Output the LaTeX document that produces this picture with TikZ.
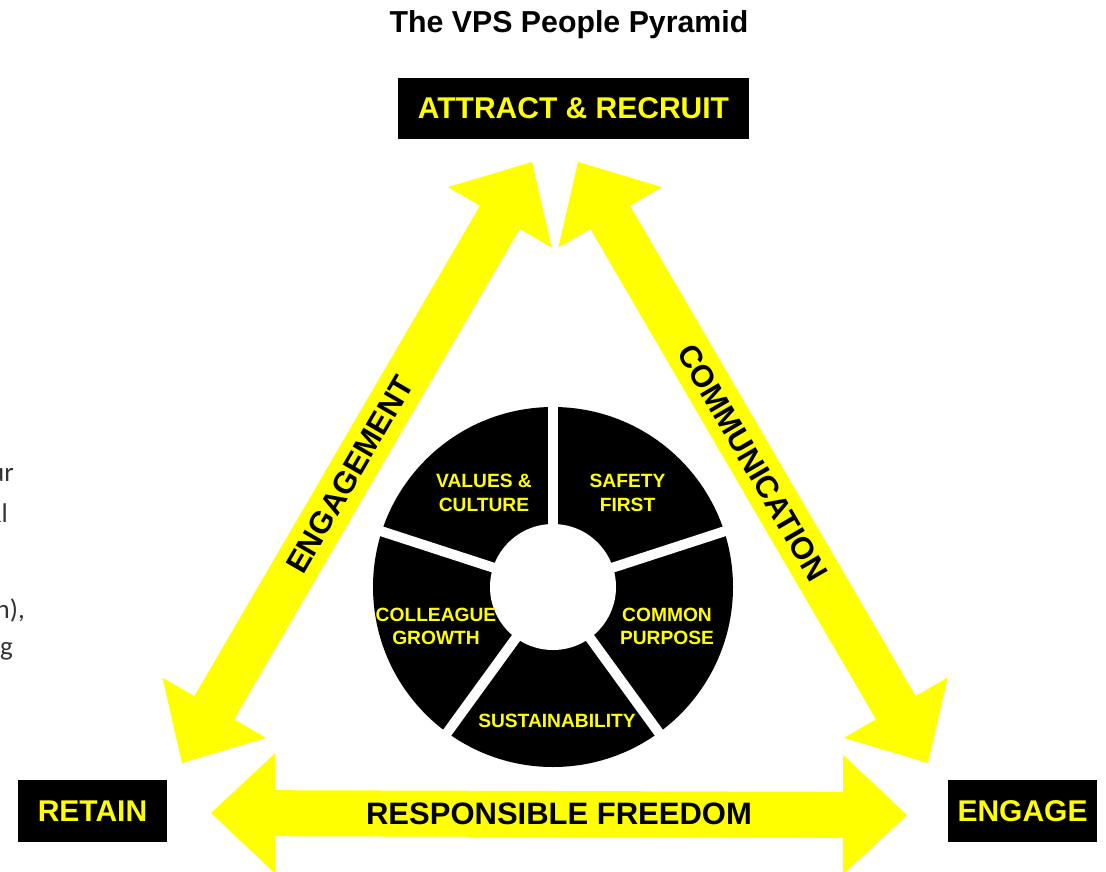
\documentclass[tikz,border=0pt]{standalone}
\usepackage{fontspec}
\setmainfont{Liberation Sans}
\newfontfamily\notefont{Carlito}
\usetikzlibrary{calc}
\definecolor{vpsyellow}{HTML}{FFFF00}

% Double-headed band arrow between two named coordinates
% (head length 64, head half-width 60, shaft half-width 23)
\newcommand\bandarrow[2]{%
  \fill[band] (#1)
    -- ($(#1)!64pt!(#2)!60pt!90:(#2)$)
    -- ($(#1)!64pt!(#2)!23pt!90:(#2)$)
    -- ($(#2)!64pt!(#1)!23pt!-90:(#1)$)
    -- ($(#2)!64pt!(#1)!60pt!-90:(#1)$)
    -- (#2)
    -- ($(#2)!64pt!(#1)!60pt!90:(#1)$)
    -- ($(#2)!64pt!(#1)!23pt!90:(#1)$)
    -- ($(#1)!64pt!(#2)!23pt!-90:(#2)$)
    -- ($(#1)!64pt!(#2)!60pt!-90:(#2)$)
    -- cycle;}

\begin{document}
\begin{tikzpicture}[x=1pt,y=-1pt,
  band/.style={fill=vpsyellow},
  bandlabel/.style={font=\fontsize{31}{31}\selectfont\bfseries, text=black, inner sep=0pt},
  cornerbox/.style={fill=black, text=vpsyellow, font=\fontsize{30}{30}\selectfont\bfseries,
    inner sep=0pt, minimum height=62pt},
  seglabel/.style={text=vpsyellow, font=\fontsize{19.2}{23.5}\selectfont\bfseries,
    align=center, inner sep=0pt},
  note/.style={font=\notefont\fontsize{27}{27}\selectfont, text=black!80,
    anchor=base east, inner sep=0pt}
]
\useasboundingbox (0,0) rectangle (1106,871);

% title
\node[font=\fontsize{30.3}{30.3}\selectfont\bfseries, anchor=base, inner sep=0pt]
  (title) at (569,32) {The VPS People Pyramid};

% corner boxes
\node[cornerbox, minimum width=351pt, minimum height=61pt] (attract) at (573.5,108.5) {ATTRACT \& RECRUIT};
\node[cornerbox, minimum width=149pt] (retain) at (92.5,811) {RETAIN};
\node[cornerbox, minimum width=149pt] (engage) at (1022.5,811) {ENGAGE};

% band arrows
\coordinate (engTop) at (532,162);
\coordinate (engBot) at (182,763);
\coordinate (comTop) at (578,162);
\coordinate (comBot) at (928,763);
\coordinate (frLeft) at (211,813);
\coordinate (frRight) at (907,815);

\bandarrow{engTop}{engBot}
\bandarrow{comTop}{comBot}
\bandarrow{frLeft}{frRight}

\path (engBot) -- (engTop) node[bandlabel, sloped, pos=0.48] (englabel) {ENGAGEMENT};
\path (comTop) -- (comBot) node[bandlabel, sloped, midway] (comlabel) {COMMUNICATION};
\path (frLeft) -- (frRight) node[bandlabel, midway] (frlabel) {RESPONSIBLE FREEDOM};

% wheel of five segments
\coordinate (hub) at (553,587);
\fill[black] (hub) circle[radius=180pt];
\foreach \a in {90,18,-54,-126,162}
  \draw[white, line width=10pt] (hub) -- ++(\a:183pt);
\fill[white] (hub) circle[radius=63pt];

\node[seglabel] (values) at (484,493) {VALUES \&\\CULTURE};
\node[seglabel] (safety) at (627.5,493) {SAFETY\\FIRST};
\node[seglabel] (colleague) at (436,626.5) {COLLEAGUE\\GROWTH};
\node[seglabel] (purpose) at (667,626.5) {COMMON\\PURPOSE};
\node[seglabel] (sustain) at (557,720.5) {SUSTAINABILITY};

% tails of the side text
\node[note] (n1) at (14,481) {ur};
\node[note] (n2) at (8,522) {\&l};
\node[note] (n3) at (25,618) {n),};
\node[note] (n4) at (13,655) {g};
\end{tikzpicture}
\end{document}
